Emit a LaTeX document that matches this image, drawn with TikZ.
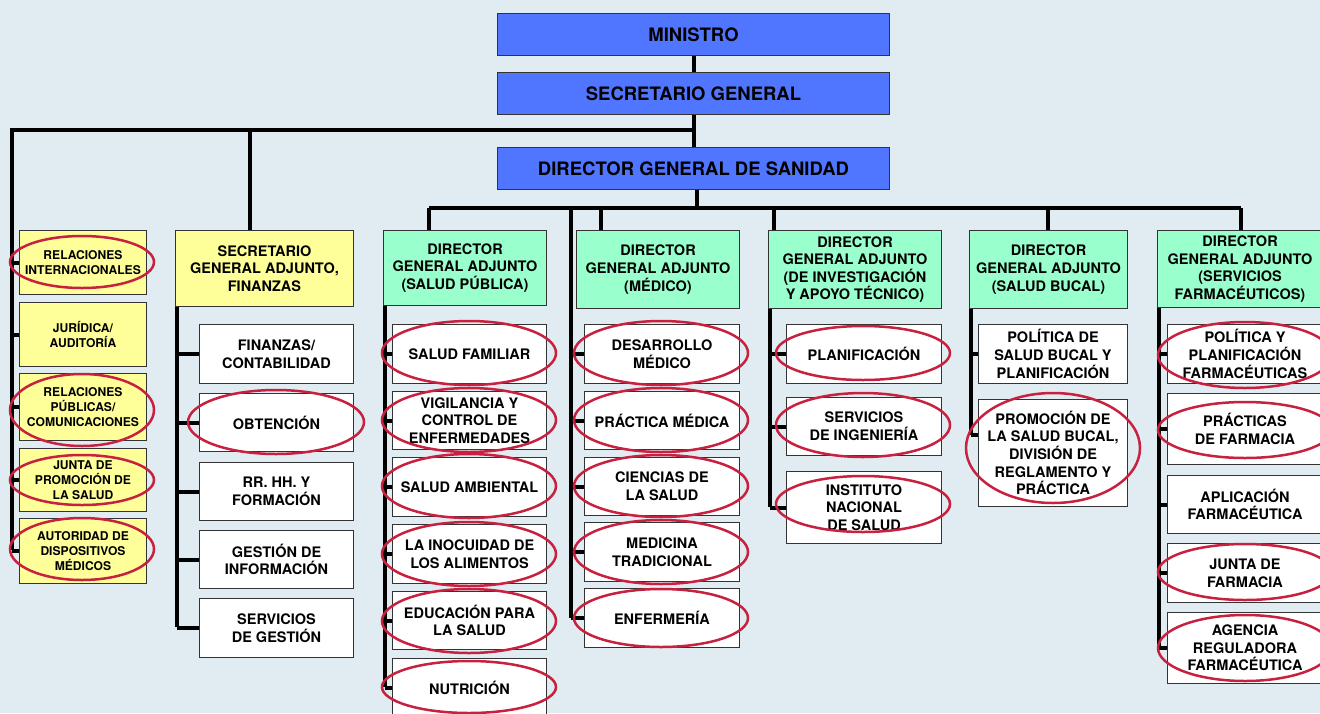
\documentclass[tikz,border=0pt]{standalone}
\usepackage{fontspec}
\setmainfont{TeX Gyre Heros}
\definecolor{bgc}{HTML}{E1ECF2}
\definecolor{royal}{HTML}{5076FF}
\definecolor{mint}{HTML}{99FFCC}
\definecolor{lemon}{HTML}{FFFF99}
\definecolor{ovalred}{HTML}{C8203F}
\newcommand\obox[7]{\node[#1, anchor=north west, minimum width={#5pt-#3pt}, minimum height={#6pt-#4pt}] (#2) at (#3,#4) {#7};}
\begin{document}
\begin{tikzpicture}[x=1pt,y=-1pt,
  conn/.style={line width=4pt, black},
  box/.style={draw=black!80, line width=1pt, inner sep=0pt, align=center, font=\bfseries\fontsize{14.5}{17.6}\selectfont},
  wbox/.style={box, fill=white},
  gbox/.style={box, fill=mint},
  bbox/.style={box, fill=royal, font=\bfseries\fontsize{18.5}{22}\selectfont},
  ybox/.style={box, fill=lemon},
  ysmall/.style={ybox, font=\bfseries\fontsize{12.1}{15}\selectfont},
  oval/.style={draw=ovalred, line width=2.5pt}]
\fill[bgc] (0,0) rectangle (1320,713);
\useasboundingbox (0,0) rectangle (1320,713);
\clip (0,0) rectangle (1320,713);
% top
\obox{bbox}{min}{497}{13}{889}{55}{MINISTRO}
\obox{bbox}{sg}{497}{72}{889}{114}{SECRETARIO GENERAL}
\obox{bbox}{dg}{497}{147}{889}{189}{DIRECTOR GENERAL DE SANIDAD}
% left column
\obox{ysmall}{l1}{19}{230}{146}{294}{RELACIONES\\INTERNACIONALES}
\obox{ysmall}{l2}{19}{302}{146}{366}{JURÍDICA/\\AUDITORÍA}
\obox{ysmall}{l3}{19}{373}{146}{440}{RELACIONES\\PÚBLICAS/\\COMUNICACIONES}
\obox{ysmall}{l4}{19}{448}{146}{511}{JUNTA DE\\PROMOCIÓN DE\\LA SALUD}
\obox{ysmall}{l5}{19}{518}{146}{583}{AUTORIDAD DE\\DISPOSITIVOS\\MÉDICOS}
% finanzas
\obox{ybox}{fin}{175}{230}{353}{306}{SECRETARIO\\GENERAL ADJUNTO,\\FINANZAS}
\obox{wbox}{f1}{199}{324}{353}{383}{FINANZAS/\\CONTABILIDAD}
\obox{wbox}{f2}{199}{393}{353}{451}{OBTENCIÓN}
\obox{wbox}{f3}{199}{462}{353}{520}{RR. HH. Y\\FORMACIÓN}
\obox{wbox}{f4}{199}{530}{353}{588}{GESTIÓN DE\\INFORMACIÓN}
\obox{wbox}{f5}{199}{598}{353}{657}{SERVICIOS\\DE GESTIÓN}
% salud publica
\obox{gbox}{sp}{383}{230}{546}{305}{DIRECTOR\\GENERAL ADJUNTO\\(SALUD PÚBLICA)}
\obox{wbox}{s1}{392}{324}{546}{383}{SALUD FAMILIAR}
\obox{wbox}{s2}{392}{391}{546}{449}{VIGILANCIA Y\\CONTROL DE\\ENFERMEDADES}
\obox{wbox}{s3}{392}{457}{546}{516}{SALUD AMBIENTAL}
\obox{wbox}{s4}{392}{524}{546}{583}{LA INOCUIDAD DE\\LOS ALIMENTOS}
\obox{wbox}{s5}{392}{591}{546}{649}{EDUCACIÓN PARA\\LA SALUD}
\obox{wbox}{s6}{392}{658}{546}{716}{NUTRICIÓN}
% medico
\obox{gbox}{med}{576}{230}{739}{308}{DIRECTOR\\GENERAL ADJUNTO\\(MÉDICO)}
\obox{wbox}{m1}{584}{324}{739}{383}{DESARROLLO\\MÉDICO}
\obox{wbox}{m2}{584}{391}{739}{449}{PRÁCTICA MÉDICA}
\obox{wbox}{m3}{584}{457}{739}{515}{CIENCIAS DE\\LA SALUD}
\obox{wbox}{m4}{584}{522}{739}{581}{MEDICINA\\TRADICIONAL}
\obox{wbox}{m5}{584}{588}{739}{647}{ENFERMERÍA}
% investigacion
\obox{gbox}{inv}{768}{230}{941}{308}{DIRECTOR\\GENERAL ADJUNTO\\(DE INVESTIGACIÓN\\Y APOYO TÉCNICO)}
\obox{wbox}{i1}{786}{324}{941}{383}{PLANIFICACIÓN}
\obox{wbox}{i2}{786}{397}{941}{455}{SERVICIOS\\DE INGENIERÍA}
\obox{wbox}{i3}{786}{471}{941}{543}{INSTITUTO\\NACIONAL\\DE SALUD}
% bucal
\obox{gbox}{buc}{969}{230}{1127}{308}{DIRECTOR\\GENERAL ADJUNTO\\(SALUD BUCAL)}
\obox{wbox}{b1}{978}{324}{1127}{383}{POLÍTICA DE\\SALUD BUCAL Y\\PLANIFICACIÓN}
\obox{wbox}{b2}{978}{399}{1127}{506}{PROMOCIÓN DE\\LA SALUD BUCAL,\\DIVISIÓN DE\\REGLAMENTO Y\\PRÁCTICA}
% farmacia
\obox{gbox}{far}{1157}{230}{1322}{307}{DIRECTOR\\GENERAL ADJUNTO\\(SERVICIOS\\FARMACÉUTICOS)}
\obox{wbox}{p1}{1167}{324}{1322}{383}{POLÍTICA Y\\PLANIFICACIÓN\\FARMACÉUTICAS}
\obox{wbox}{p2}{1167}{393}{1322}{464}{PRÁCTICAS\\DE FARMACIA}
\obox{wbox}{p3}{1167}{475}{1322}{533}{APLICACIÓN\\FARMACÉUTICA}
\obox{wbox}{p4}{1167}{543}{1322}{602}{JUNTA DE\\FARMACIA}
\obox{wbox}{p5}{1167}{612}{1322}{683}{AGENCIA\\REGULADORA\\FARMACÉUTICA}
% connectors
\draw[conn] (min.south) -- (sg.north);
\draw[conn] (sg.south) -- (dg.north);
\coordinate (j1) at (693,130);
\coordinate (lsb) at (12,550);
\draw[conn] (j1) -| (lsb);
\foreach \n in {l1,l2,l3,l4,l5} \draw[conn] (\n.west -| lsb) -- (\n.west);
\coordinate (fd) at (250,130);
\draw[conn] (fd) -- (fd |- fin.north);
\coordinate (fsb) at (177,627);
\draw[conn] (fin.south -| fsb) -- (fsb);
\foreach \n in {f1,f2,f3,f4,f5} \draw[conn] (\n.west -| fsb) -- (\n.west);
\coordinate (j2) at (697,208);
\draw[conn] (dg.south -| j2) -- (j2);
\coordinate (bl) at (429,208);
\coordinate (br) at (1241,208);
\draw[conn] (bl) -- (br);
\draw[conn] (bl) -- (bl |- sp.north);
\coordinate (dm) at (601,208);
\draw[conn] (dm) -- (dm |- med.north);
\coordinate (di) at (774,208);
\draw[conn] (di) -- (di |- inv.north);
\coordinate (db) at (1048,208);
\draw[conn] (db) -- (db |- buc.north);
\draw[conn] (br) -- (br |- far.north);
% spines
\coordinate (ssb) at (385,687);
\draw[conn] (sp.south -| ssb) -- (ssb);
\foreach \n in {s1,s2,s3,s4,s5,s6} \draw[conn] (\n.west -| ssb) -- (\n.west);
\coordinate (mst) at (571,208);
\coordinate (msb) at (571,618);
\draw[conn] (mst) -- (msb);
\foreach \n in {m1,m2,m3,m4,m5} \draw[conn] (\n.west -| msb) -- (\n.west);
\coordinate (isb) at (770,507);
\draw[conn] (inv.south -| isb) -- (isb);
\foreach \n in {i1,i2,i3} \draw[conn] (\n.west -| isb) -- (\n.west);
\coordinate (bsb) at (971,435);
\draw[conn] (buc.south -| bsb) -- (bsb);
\draw[conn] (b1.west -| bsb) -- (b1.west);
\draw[conn] (bsb) -- (bsb -| b2.west);
\coordinate (psb) at (1159,648);
\draw[conn] (far.south -| psb) -- (psb);
\foreach \n in {p1,p2,p3,p4,p5} \draw[conn] (\n.west -| psb) -- (\n.west);
% ovals
\draw[oval] (82,262) ellipse [x radius=72pt, y radius=26pt];
\draw[oval] (82,410) ellipse [x radius=72pt, y radius=36pt];
\draw[oval] (82,480) ellipse [x radius=72pt, y radius=25pt];
\draw[oval] (82,549) ellipse [x radius=72pt, y radius=31pt];
\draw[oval] (276,422) ellipse [x radius=88pt, y radius=32pt];
\foreach \yy/\ry in {353/32,420/32,486/32,554/32,621/32,687/26}
  \draw[oval] (469,\yy) ellipse [x radius=87pt, y radius=\ry pt];
\foreach \yy/\ry in {353/32,420/32,486/31,552/32,618/29}
  \draw[oval] (661,\yy) ellipse [x radius=87pt, y radius=\ry pt];
\foreach \yy/\ry in {353/27,425/32,504/28}
  \draw[oval] (863,\yy) ellipse [x radius=87pt, y radius=\ry pt];
\draw[oval] (1053,448) ellipse [x radius=87pt, y radius=55pt];
\foreach \yy/\ry in {355/33,430/28,572/28,648/33}
  \draw[oval] (1245,\yy) ellipse [x radius=87pt, y radius=\ry pt];
\end{tikzpicture}
\end{document}
